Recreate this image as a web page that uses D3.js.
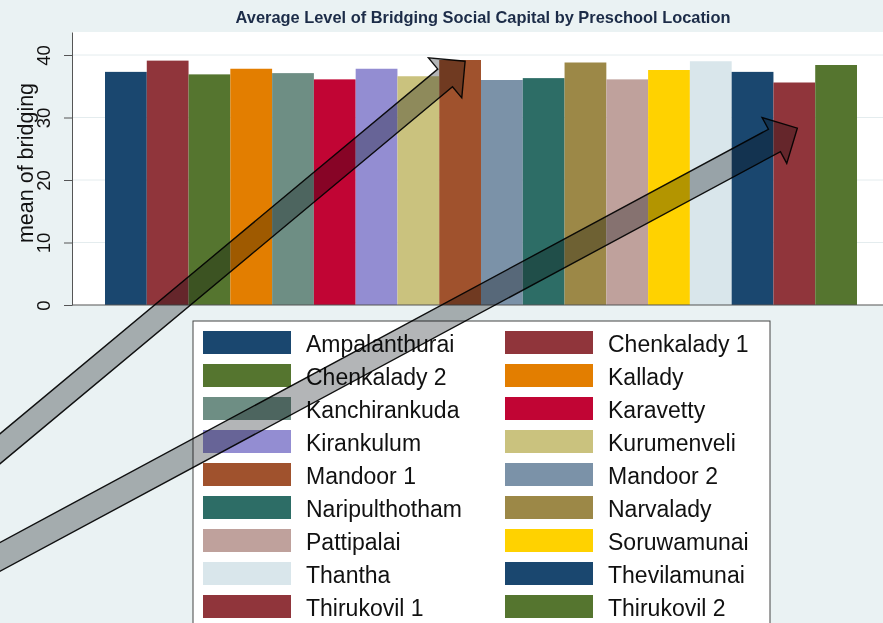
<!DOCTYPE html>
<html lang="en">
<head>
<meta charset="utf-8">
<title>Average Level of Bridging Social Capital by Preschool Location</title>
<script src="https://d3js.org/d3.v7.min.js"></script>
<style>
  body { margin: 0; background: #eaf2f3; }
  svg { display: block; font-family: "Liberation Sans", Arial, Helvetica, sans-serif; }
  .arrow { fill: #b3b5b7; stroke: #111; stroke-width: 1.4; mix-blend-mode: multiply; }
</style>
</head>
<body>
<svg width="883" height="623"></svg>
<script>
// preschool locations in plot order
var locations = ["Ampalanthurai", "Chenkalady 1", "Chenkalady 2", "Kallady", "Kanchirankuda",
  "Karavetty", "Kirankulum", "Kurumenveli", "Mandoor 1", "Mandoor 2", "Naripulthotham",
  "Narvalady", "Pattipalai", "Soruwamunai", "Thantha", "Thevilamunai", "Thirukovil 1", "Thirukovil 2"];

// mean of bridging
var bridging = [37.3, 39.1, 36.9, 37.8, 37.1, 36.1, 37.8, 36.6, 39.2, 36.0, 36.3,
  38.8, 36.1, 37.6, 39.0, 37.3, 35.6, 38.4];

var yTicks = [0, 10, 20, 30, 40];

// stata s2color palette
var palette = ["#1a476f", "#90353b", "#55752f", "#e37e00", "#6e8e84", "#c10534", "#938dd2",
  "#cac27e", "#a0522d", "#7b92a8", "#2d6d66", "#9c8847", "#bfa19c", "#ffd200", "#d9e6eb"];

// the two overlaid arrows: which bar they point at, and where their tails start (in y units at the left edge)
var arrows = [
  {target: "Mandoor 1", tipValue: 39.0, nudge: 5, tailValue: -23.0, half: 11.5},
  {target: "Thirukovil 1", tipValue: 28.3, nudge: 3, tailValue: -40.3, half: 12.7}
];

var W = 883, H = 623;
var plot = {left: 72, top: 32, right: 890, bottom: 305};

var svg = d3.select("svg");

var y = d3.scaleLinear().domain([0, 43.68]).range([plot.bottom, plot.top]);
var x = d3.scaleBand().domain(locations).range([105, 857]).padding(0);
var color = d3.scaleOrdinal().domain(locations).range(palette);

// background + plot area
svg.append("rect").attr("width", W).attr("height", H).attr("fill", "#eaf2f3");
svg.append("rect")
  .attr("x", plot.left).attr("y", plot.top)
  .attr("width", plot.right - plot.left).attr("height", plot.bottom - plot.top)
  .attr("fill", "#ffffff");

// gridlines
svg.append("g")
  .selectAll("line")
  .data(yTicks.slice(1))
  .enter().append("line")
    .attr("x1", plot.left).attr("x2", plot.right)
    .attr("y1", function(d) { return y(d); })
    .attr("y2", function(d) { return y(d); })
    .attr("stroke", "#e4ecee").attr("stroke-width", 1);

// bars
svg.append("g")
  .selectAll("rect")
  .data(locations)
  .enter().append("rect")
    .attr("x", function(d) { return x(d); })
    .attr("y", function(d, i) { return y(bridging[i]); })
    .attr("width", x.bandwidth())
    .attr("height", function(d, i) { return y(0) - y(bridging[i]); })
    .attr("fill", function(d) { return color(d); });

// y axis
var yAxis = svg.append("g")
  .attr("transform", "translate(" + plot.left + ",0)")
  .call(d3.axisLeft(y).tickValues(yTicks).tickSize(8).tickSizeOuter(0));
yAxis.select(".domain").attr("stroke", "#555");
yAxis.selectAll(".tick line").attr("stroke", "#555");
yAxis.selectAll(".tick text")
  .attr("transform", "rotate(-90)")
  .attr("x", 0).attr("y", -22).attr("dy", 0)
  .attr("text-anchor", "middle")
  .attr("fill", "#111")
  .style("font-size", "18.5px");

// x axis line (no ticks)
svg.append("line")
  .attr("x1", plot.left).attr("x2", plot.right)
  .attr("y1", y(0)).attr("y2", y(0))
  .attr("stroke", "#555").attr("stroke-width", 1.2);

// axis title
svg.append("text")
  .attr("transform", "translate(33,163) rotate(-90)")
  .attr("text-anchor", "middle")
  .attr("fill", "#111")
  .style("font-size", "21.5px")
  .text("mean of bridging");

// chart title
svg.append("text")
  .attr("x", 483).attr("y", 23)
  .attr("text-anchor", "middle")
  .attr("fill", "#1c2c48")
  .style("font-size", "16.4px")
  .style("font-weight", "bold")
  .text("Average Level of Bridging Social Capital by Preschool Location");

// legend
var legend = svg.append("g");
legend.append("rect")
  .attr("x", 193).attr("y", 321).attr("width", 577).attr("height", 400)
  .attr("fill", "#ffffff").attr("stroke", "#444").attr("stroke-width", 1);

var item = legend.selectAll("g.item")
  .data(locations)
  .enter().append("g")
    .attr("class", "item")
    .attr("transform", function(d, i) {
      return "translate(" + (203 + (i % 2) * 302) + "," + (331 + Math.floor(i / 2) * 33) + ")";
    });
item.append("rect")
  .attr("width", 88).attr("height", 23)
  .attr("fill", function(d) { return color(d); });
item.append("text")
  .attr("x", 103).attr("y", 21)
  .attr("fill", "#111")
  .style("font-size", "23px")
  .text(function(d) { return d; });

// block arrows pointing at bars
arrows.forEach(function(a) {
  var tip = [x(a.target) + x.bandwidth() / 2 + a.nudge, y(a.tipValue)];
  var tail = [0, y(a.tailValue)];
  var dx = tip[0] - tail[0], dy = tip[1] - tail[1];
  var len = Math.sqrt(dx * dx + dy * dy);
  var u = [dx / len, dy / len];
  var n = [u[1], -u[0]];
  // push tail past the left edge
  tail = [tail[0] - u[0] * 30, tail[1] - u[1] * 30];
  var headLen = 26, headHalf = 26, w = a.half;
  var b = [tip[0] - u[0] * headLen, tip[1] - u[1] * headLen];
  var pts = [
    [tail[0] + n[0] * w, tail[1] + n[1] * w],
    [b[0] + n[0] * w, b[1] + n[1] * w],
    [b[0] + n[0] * headHalf, b[1] + n[1] * headHalf],
    tip,
    [b[0] - n[0] * headHalf, b[1] - n[1] * headHalf],
    [b[0] - n[0] * w, b[1] - n[1] * w],
    [tail[0] - n[0] * w, tail[1] - n[1] * w]
  ];
  svg.append("path")
    .attr("class", "arrow")
    .attr("d", d3.line()(pts) + "Z");
});
</script>
</body>
</html>
